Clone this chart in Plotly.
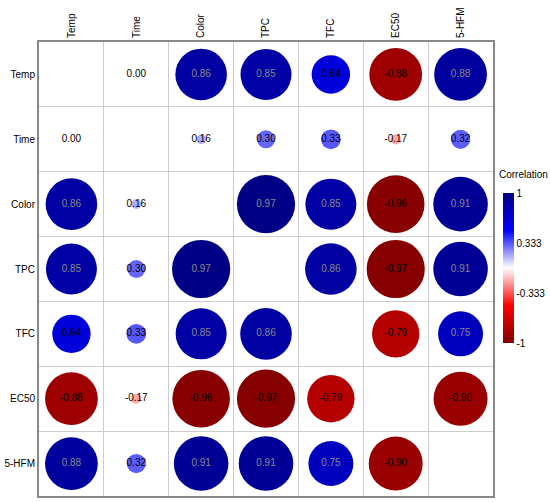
import plotly.graph_objects as go

labels = ["Temp", "Time", "Color", "TPC", "TFC", "EC50", "5-HFM"]

# correlation matrix, None on the diagonal (left empty in the chart)
r_temp = [None, 0.00, 0.86, 0.85, 0.64, -0.88, 0.88]
r_time = [0.00, None, 0.16, 0.30, 0.33, -0.17, 0.32]
r_color = [0.86, 0.16, None, 0.97, 0.85, -0.96, 0.91]
r_tpc = [0.85, 0.30, 0.97, None, 0.86, -0.97, 0.91]
r_tfc = [0.64, 0.33, 0.85, 0.86, None, -0.79, 0.75]
r_ec50 = [-0.88, -0.17, -0.96, -0.97, -0.79, None, -0.90]
r_hfm = [0.88, 0.32, 0.91, 0.91, 0.75, -0.90, None]

rows = [r_temp, r_time, r_color, r_tpc, r_tfc, r_ec50, r_hfm]

cbar_ticks = [1, 0.333, -0.333, -1]

scale = [[0.0, "#7f0000"], [0.25, "#ff0000"], [0.5, "#ffffff"],
         [0.75, "#0000ff"], [1.0, "#00007f"]]

xs, ys, vals = [], [], []
for i, row in enumerate(rows):
    for j, v in enumerate(row):
        if v is None:
            continue
        xs.append(labels[j])
        ys.append(labels[i])
        vals.append(v)

sizes = [abs(v) * 60 for v in vals]
txt = ["%.2f" % v for v in vals]
txt_col = ["#888888" if v > 0.7 else "black" for v in vals]

fig = go.Figure()
fig.add_trace(go.Scatter(
    x=xs, y=ys, mode="markers+text",
    text=txt, textposition="middle center",
    textfont=dict(size=10, color=txt_col, family="Liberation Sans, Arial"),
    marker=dict(size=sizes, color=vals, colorscale=scale, cmin=-1, cmax=1,
                line=dict(width=0), opacity=1,
                colorbar=dict(tickvals=cbar_ticks,
                              ticktext=["1", "0.333", "-0.333", "-1"],
                              tickfont=dict(size=10),
                              thickness=11, lenmode="pixels", len=150,
                              x=1.022, xanchor="left", xpad=0,
                              y=0.502, yanchor="middle", ypad=0,
                              outlinewidth=0, ticks="", ticklen=2)),
    hoverinfo="skip", showlegend=False,
))

# legend title placed by hand so it starts a bit left of the bar, like the original
fig.add_annotation(text="Correlation", xref="paper", yref="paper",
                   x=1.008, y=0.709, xanchor="left", yanchor="middle",
                   showarrow=False, font=dict(size=10, color="black"))

axis_common = dict(type="category", categoryorder="array", categoryarray=labels,
                   tickson="boundaries", showgrid=True, gridcolor="#cccccc",
                   gridwidth=1, showline=True, mirror=True, linecolor="#888888",
                   linewidth=2, ticks="", zeroline=False, automargin=False,
                   tickfont=dict(size=10, color="black"))

fig.update_xaxes(**axis_common, side="top", tickangle=-90, range=[-0.5, 6.5])
fig.update_yaxes(**axis_common, autorange=False, range=[6.5, -0.5])

fig.update_layout(
    width=550, height=502,
    margin=dict(l=39, r=57, t=42, b=6, autoexpand=False),
    paper_bgcolor="white", plot_bgcolor="white",
    font=dict(family="Liberation Sans, Arial", color="black"),
)

# drop the default 8px page margin so the figure sits at the window corner
fig.write_html("out.html", config={"displayModeBar": False},
               post_script="document.body.style.margin='0';")
